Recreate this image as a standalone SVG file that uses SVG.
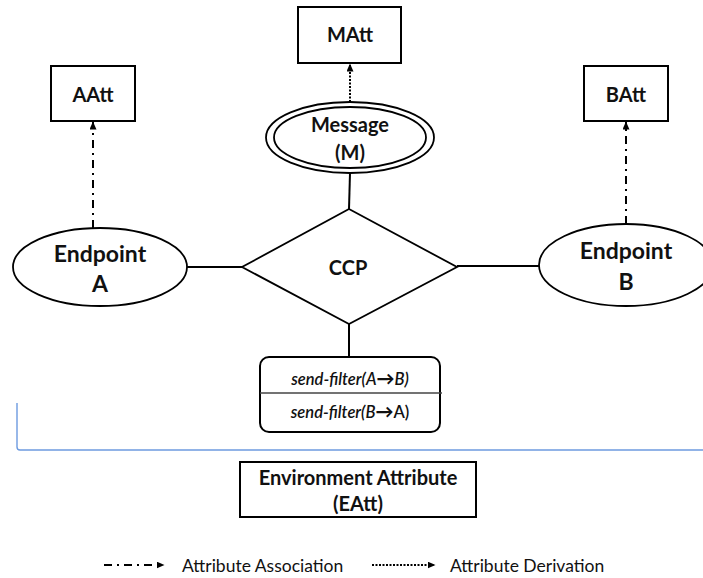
<svg xmlns="http://www.w3.org/2000/svg" width="703" height="578" viewBox="0 0 703 578">
  <defs>
    <marker id="head" viewBox="0 0 8 7" refX="7.5" refY="3.5" markerWidth="8" markerHeight="7" markerUnits="userSpaceOnUse" orient="auto">
      <path d="M0,0 L8,3.5 L0,7 z" fill="#000"/>
    </marker>
    <style>
      text { font-family: Lato, "Liberation Sans", sans-serif; fill: #111; }
      .lbl { font-weight: bold; font-size: 20px; text-anchor: middle; }
      .big { font-weight: bold; font-size: 23px; text-anchor: middle; }
      .box { fill: #fff; stroke: #000; stroke-width: 2; }
      .ent { fill: #fff; stroke: #000; stroke-width: 1.8; }
      .line { stroke: #000; stroke-width: 2; fill: none; }
      .assoc { stroke: #000; stroke-width: 2; fill: none; stroke-dasharray: 8 5 2 5; }
      .deriv { stroke: #000; stroke-width: 2; fill: none; stroke-dasharray: 2 1.5; }
      .filter { font-size: 16.5px; font-weight: 600; text-anchor: middle; }
      .arrow { font-size: 18px; font-weight: 900; font-style: normal; }
      .legend { font-size: 17.5px; }
    </style>
  </defs>

  <!-- connectors -->
  <g id="connectors">
    <line class="line" x1="187" y1="267" x2="242" y2="267"/>
    <line class="line" x1="457" y1="266" x2="540" y2="266"/>
    <line class="line" x1="350" y1="173" x2="349" y2="209"/>
    <line class="line" x1="349" y1="324" x2="349" y2="357"/>
    <line class="assoc" x1="93" y1="228" x2="93" y2="122" marker-end="url(#head)"/>
    <line class="assoc" x1="626" y1="224" x2="626" y2="122" marker-end="url(#head)"/>
    <line class="deriv" x1="350" y1="102" x2="350" y2="64" marker-end="url(#head)"/>
  </g>

  <!-- attribute boxes -->
  <g id="matt">
    <rect class="box" x="298" y="7" width="103" height="56"/>
    <text class="lbl" x="350" y="42">MAtt</text>
  </g>
  <g id="aatt">
    <rect class="box" x="51" y="66" width="84" height="55"/>
    <text class="lbl" x="93" y="102">AAtt</text>
  </g>
  <g id="batt">
    <rect class="box" x="584" y="66" width="84" height="55"/>
    <text class="lbl" x="626" y="102">BAtt</text>
  </g>

  <!-- weak entity: message -->
  <g id="message">
    <ellipse class="ent" cx="350" cy="137.5" rx="84" ry="35.5"/>
    <ellipse class="ent" cx="350" cy="137.5" rx="76" ry="30.5"/>
    <text class="lbl" x="350" y="132">Message</text>
    <text class="lbl" x="350" y="160">(M)</text>
  </g>

  <!-- endpoints -->
  <g id="endpoint-a">
    <ellipse class="ent" cx="100" cy="267" rx="87" ry="39"/>
    <text class="big" x="100" y="262">Endpoint</text>
    <text class="big" x="100" y="292">A</text>
  </g>
  <g id="endpoint-b">
    <ellipse class="ent" cx="626" cy="265" rx="87" ry="41"/>
    <text class="big" x="626" y="259">Endpoint</text>
    <text class="big" x="626" y="290">B</text>
  </g>

  <!-- relationship -->
  <g id="ccp">
    <polygon class="ent" points="349,209 457,267 349,324 242,267"/>
    <text class="lbl" x="348" y="275">CCP</text>
  </g>

  <!-- send filters -->
  <g id="send-filter">
    <rect class="box" x="260" y="357" width="180" height="75" rx="9"/>
    <line x1="260" y1="393" x2="442" y2="393" stroke="#444" stroke-width="1.5"/>
    <text class="filter" x="350" y="385"><tspan font-style="italic">send-filter(A</tspan><tspan class="arrow">→</tspan><tspan font-style="italic">B)</tspan></text>
    <text class="filter" x="350" y="418"><tspan font-style="italic">send-filter(B</tspan><tspan class="arrow">→</tspan><tspan>A)</tspan></text>
  </g>

  <!-- environment boundary -->
  <path d="M17,403 L17,447 Q17,450 20,450 L703,450" fill="none" stroke="#6d9be0" stroke-width="1.4"/>

  <g id="eatt">
    <rect class="box" x="240" y="462" width="236" height="55"/>
    <text class="lbl" x="358" y="485">Environment Attribute</text>
    <text class="lbl" x="358" y="511">(EAtt)</text>
  </g>

  <!-- legend -->
  <g id="legend">
    <line class="assoc" x1="104" y1="565" x2="164" y2="565" marker-end="url(#head)" stroke-dasharray="8 5 2 5" stroke-width="2.5"/>
    <text class="legend" x="182" y="572">Attribute Association</text>
    <line class="deriv" x1="372" y1="565" x2="435" y2="565" marker-end="url(#head)" stroke-width="1.5"/>
    <text class="legend" x="450" y="572">Attribute Derivation</text>
  </g>
</svg>
